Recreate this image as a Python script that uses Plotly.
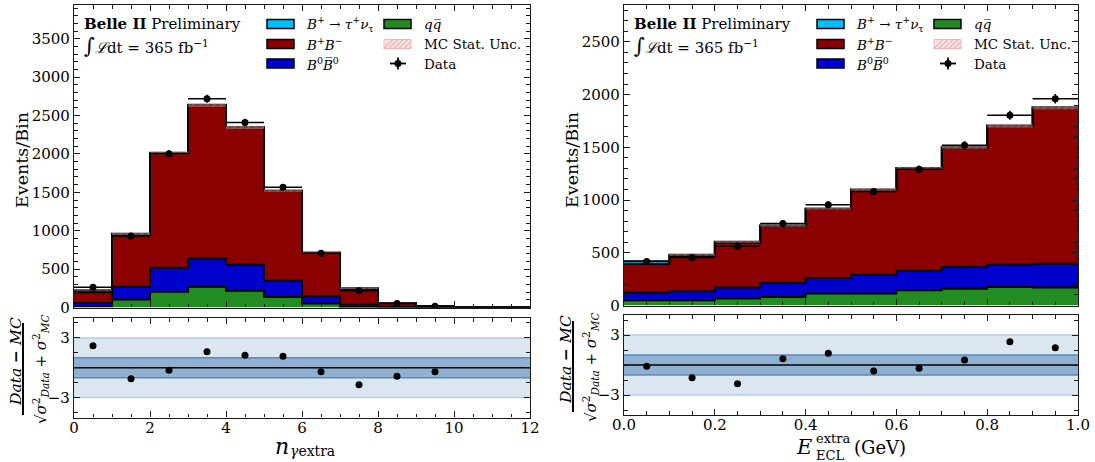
import numpy as np
import plotly.graph_objects as go

W, H = 1095, 462
FONT = "DejaVu Serif"

# ---------------- left panel: n_gamma_extra ----------------
n_edges = [0, 1, 2, 3, 4, 5, 6, 7, 8, 9, 10, 11, 12]
n_qq   = [15, 105, 204, 269, 217, 138, 52, 8, 2, 1, 0, 0]
n_b0   = [45, 164, 313, 374, 339, 209, 95, 30, 8, 3, 0, 0]
n_bpbm = [140, 683, 1494, 1995, 1792, 1174, 565, 210, 50, 13, 0, 0]
n_sig  = [25, 8, 4, 2, 1, 1, 0, 0, 0, 0, 0, 0]
n_unc  = [8, 15, 22, 25, 24, 19, 13, 8, 4, 2, 0, 0]
n_data_x = [0.5, 1.5, 2.5, 3.5, 4.5, 5.5, 6.5, 7.5, 8.5, 9.5]
n_data   = [265, 930, 2004, 2718, 2409, 1566, 705, 217, 52, 15]
n_pull   = [2.2, -1.1, -0.25, 1.6, 1.25, 1.15, -0.4, -1.7, -0.85, -0.4]

# ---------------- right panel: E_ECL^extra ----------------
e_edges = [0.0, 0.1, 0.2, 0.3, 0.4, 0.5, 0.6, 0.7, 0.8, 0.9, 1.0]
e_qq   = [50, 50, 66, 81, 113, 113, 144, 160, 175, 170]
e_b0   = [73, 85, 104, 132, 147, 179, 189, 204, 212, 226]
e_bpbm = [270, 335, 427, 541, 655, 805, 968, 1135, 1317, 1482]
e_sig  = [28, 12, 8, 6, 5, 4, 3, 3, 2, 2]
e_unc  = [8, 9, 10, 12, 13, 14, 15, 16, 17, 18]
e_data_x = [0.05, 0.15, 0.25, 0.35, 0.45, 0.55, 0.65, 0.75, 0.85, 0.95]
e_data   = [418, 455, 562, 778, 955, 1081, 1292, 1521, 1804, 1961]
e_pull   = [-0.13, -1.27, -1.87, 0.63, 1.17, -0.6, -0.33, 0.5, 2.33, 1.73]

C_SIG = "#00BFFF"
C_BPBM = "#8B0000"
C_B0 = "#0000CD"
C_QQ = "#228B22"


def PX(x):
    return x / W


def PY(y):
    return 1 - y / H


fig = go.Figure()


def add_panel(edges, qq, b0, bpbm, sig, unc, dx, dy, pull, halfw, xa, ya, xr, yr):
    cum = np.zeros(len(edges) - 1)
    first = True
    for vals, color in [(qq, C_QQ), (b0, C_B0), (bpbm, C_BPBM), (sig, C_SIG)]:
        cum = cum + np.array(vals, float)
        ys = list(cum) + [cum[-1]]
        fig.add_trace(go.Scatter(
            x=edges, y=ys, mode="lines",
            line=dict(shape="hv", color="black", width=2),
            fill="tozeroy" if first else "tonexty", fillcolor=color,
            xaxis=xa, yaxis=ya, showlegend=False, hoverinfo="skip"))
        first = False
    u = np.array(unc, float)
    lo = list(cum - u) + [(cum - u)[-1]]
    hi = list(cum + u) + [(cum + u)[-1]]
    fig.add_trace(go.Scatter(x=edges, y=lo, mode="lines", line=dict(shape="hv", width=0),
                             xaxis=xa, yaxis=ya, showlegend=False, hoverinfo="skip"))
    fig.add_trace(go.Scatter(
        x=edges, y=hi, mode="lines", line=dict(shape="hv", width=0),
        fill="tonexty", fillcolor="rgba(255,200,200,0.35)",
        fillpattern=dict(shape="/", fgcolor="rgba(225,120,120,0.7)",
                         bgcolor="rgba(255,215,215,0.35)", size=5, solidity=0.3),
        xaxis=xa, yaxis=ya, showlegend=False, hoverinfo="skip"))
    fig.add_trace(go.Scatter(
        x=dx, y=dy, mode="markers",
        marker=dict(color="black", size=7),
        error_x=dict(type="constant", value=halfw, thickness=1.5, width=0, color="black"),
        error_y=dict(type="data", array=list(np.sqrt(np.array(dy, float))),
                     thickness=1.5, width=0, color="black"),
        xaxis=xa, yaxis=ya, showlegend=False))
    # ratio panel
    fig.add_trace(go.Scatter(
        x=dx, y=pull, mode="markers", marker=dict(color="black", size=7),
        xaxis=xr, yaxis=yr, showlegend=False))


add_panel(n_edges, n_qq, n_b0, n_bpbm, n_sig, n_unc, n_data_x, n_data, n_pull, 0.5,
          "x", "y", "x2", "y2")
add_panel(e_edges, e_qq, e_b0, e_bpbm, e_sig, e_unc, e_data_x, e_data, e_pull, 0.05,
          "x3", "y3", "x4", "y4")

AXC = "#1a1a1a"


def axis(domain, rng, dtick, mdtick, labels=True, tick0=0, anchor=None, fmt=None, standoff=0):
    d = dict(
        domain=domain, range=rng, anchor=anchor,
        showline=True, linecolor=AXC, linewidth=1.3, mirror="allticks",
        ticks="inside", ticklen=6, tickwidth=1.1, tickcolor=AXC,
        tick0=tick0, dtick=dtick, showticklabels=labels,
        tickfont=dict(family=FONT, size=15, color="black"),
        showgrid=False, zeroline=False, automargin=False,
        ticklabelstandoff=standoff,
        minor=dict(ticks="inside", ticklen=3.5, tickwidth=1, tickcolor=AXC,
                   dtick=mdtick, tick0=0, showgrid=False),
    )
    if fmt:
        d["tickformat"] = fmt
    return d


L_X = [PX(74), PX(530)]
R_X = [PX(624), PX(1078)]
LT_Y = [PY(307.5), PY(5)]
LR_Y = [PY(417.5), PY(318)]
RT_Y = [PY(305.5), PY(5)]
RR_Y = [PY(415), PY(315)]

fig.update_layout(
    width=W, height=H,
    margin=dict(l=0, r=0, t=0, b=0),
    paper_bgcolor="white", plot_bgcolor="white",
    font=dict(family=FONT, color="black"),
    xaxis=axis(L_X, [0, 12], 2, 0.5, labels=False, anchor="y"),
    yaxis=axis(LT_Y, [0, 3940], 500, 100, anchor="x"),
    xaxis2=axis(L_X, [0, 12], 2, 0.5, anchor="y2", standoff=-4),
    yaxis2=axis(LR_Y, [-5, 5], 6, 1.5, tick0=-3, anchor="x2"),
    xaxis3=axis(R_X, [0, 1], 0.2, 0.05, labels=False, anchor="y3"),
    yaxis3=axis(RT_Y, [0, 2850], 500, 100, anchor="x3"),
    xaxis4=axis(R_X, [0, 1], 0.2, 0.05, anchor="y4", fmt=".1f", standoff=-4),
    yaxis4=axis(RR_Y, [-5, 5], 6, 1.5, tick0=-3, anchor="x4"),
    showlegend=False,
)

shapes = []
annots = []

# ratio bands
for xr, yr, xmax in [("x2", "y2", 12), ("x4", "y4", 1.0)]:
    shapes.append(dict(type="rect", xref=xr, yref=yr, x0=0, x1=xmax, y0=-3, y1=3,
                       fillcolor="rgb(219,230,240)", line=dict(width=0), layer="below"))
    shapes.append(dict(type="rect", xref=xr, yref=yr, x0=0, x1=xmax, y0=-1, y1=1,
                       fillcolor="rgb(143,176,208)", line=dict(width=0), layer="below"))
    for yv, col in [(3, "rgb(182,204,226)"), (-3, "rgb(182,204,226)"),
                    (1, "rgb(95,137,186)"), (-1, "rgb(95,137,186)")]:
        shapes.append(dict(type="line", xref=xr, yref=yr, x0=0, x1=xmax, y0=yv, y1=yv,
                           line=dict(color=col, width=1.5), layer="below"))
    shapes.append(dict(type="line", xref=xr, yref=yr, x0=0, x1=xmax, y0=0, y1=0,
                       line=dict(color="black", width=1.3), layer="below"))


def txt(x, y, text, size, xanchor="left", angle=0, yanchor="middle"):
    annots.append(dict(x=PX(x), y=PY(y), xref="paper", yref="paper", text=text,
                       showarrow=False, xanchor=xanchor, yanchor=yanchor, textangle=angle,
                       borderpad=0,
                       font=dict(family=FONT, size=size, color="black")))


def rect(x0, y0, x1, y1, fill, lc="black", lw=1.5):
    shapes.append(dict(type="rect", xref="paper", yref="paper",
                       x0=PX(x0), x1=PX(x1), y0=PY(y1), y1=PY(y0),
                       fillcolor=fill, line=dict(color=lc, width=lw)))


def pline(x0, y0, x1, y1, col="black", w=1.5):
    shapes.append(dict(type="line", xref="paper", yref="paper",
                       x0=PX(x0), x1=PX(x1), y0=PY(y0), y1=PY(y1),
                       line=dict(color=col, width=w)))


for ox in [74, 624]:
    # header text
    txt(ox + 9, 24.5, "<b>Belle II</b> Preliminary", 15)
    txt(ox + 9, 46, "<span style='font-size:21px'>∫</span><i>ℒ</i>dt = 365 fb<sup>−1</sup>", 15)
    # legend
    rows = [24, 44, 63.5]
    c1p, c1t = ox + 193, ox + 231
    c2p, c2t = ox + 310, ox + 349
    for r, col in zip(rows, [C_SIG, C_BPBM, C_B0]):
        rect(c1p, r - 4.5, c1p + 27, r + 4.5, col)
    txt(c1t, rows[0], "<i>B</i><sup>+</sup> → <i>τ</i><sup>+</sup><i>ν</i><sub>τ</sub>", 13.5)
    txt(c1t, rows[1], "<i>B</i><sup>+</sup><i>B</i><sup>−</sup>", 13.5)
    txt(c1t, rows[2], "<i>B</i><sup>0</sup><i>B\u0305</i><sup>0</sup>", 13.5)
    rect(c2p, rows[0] - 4.5, c2p + 27, rows[0] + 4.5, C_QQ)
    txt(c2t, rows[0], "<i>q</i><i>q\u0305</i>", 13.5)
    rect(c2p, rows[1] - 4.5, c2p + 27, rows[1] + 4.5, "rgba(250,205,205,0.6)",
         lc="rgba(240,180,180,0.9)", lw=1)
    for k in range(6):
        xa0 = c2p + k * 5
        xa1 = min(xa0 + 9, c2p + 27)
        ya1 = rows[1] + 4.5 - (xa1 - xa0)
        pline(xa0, rows[1] + 4.5, xa1, ya1, col="rgba(225,130,130,0.8)", w=1)
    txt(c2t, rows[1], "MC Stat. Unc.", 13.5)
    cx = ox + 324
    pline(cx - 8, rows[2], cx + 8, rows[2], w=1.8)
    pline(cx, rows[2] - 6, cx, rows[2] + 6, w=1.8)
    shapes.append(dict(type="circle", xref="paper", yref="paper",
                       x0=PX(cx - 3.5), x1=PX(cx + 3.5), y0=PY(rows[2] + 3.5),
                       y1=PY(rows[2] - 3.5), fillcolor="black", line=dict(width=0)))
    txt(c2t, rows[2], "Data", 13.5)

# y titles
txt(22, 160, "Events/Bin", 17.5, xanchor="center", angle=-90)
txt(572, 160, "Events/Bin", 17.5, xanchor="center", angle=-90)

# ratio y titles (fractions)
for nx, bx, dxp, yc, yb0, yb1 in [(15, 23, 40, 362, 323, 415), (565, 573, 590, 360, 321, 412)]:
    txt(nx, yc, "<i>Data</i> <b>−</b> <i>MC</i>", 15.5, xanchor="center", angle=-90)
    pline(bx, yb0, bx, yb1, w=2)
    txt(dxp, yc + 7, "√<i>σ</i><sup>2</sup><sub><i>Data</i></sub> + <i>σ</i><sup>2</sup><sub><i>MC</i></sub>",
        15, xanchor="center", angle=-90)

# x titles
txt(282, 446, "<i>n</i>", 22, xanchor="center")
txt(289, 451, "<i>γ</i>extra", 14)
txt(804, 447, "<i>E</i>", 21, xanchor="center")
txt(815, 438, "extra", 13)
txt(815, 455, "ECL", 13)
txt(853, 447, "(GeV)", 18)

fig.update_layout(shapes=shapes, annotations=annots)
fig.write_html("out.html")
